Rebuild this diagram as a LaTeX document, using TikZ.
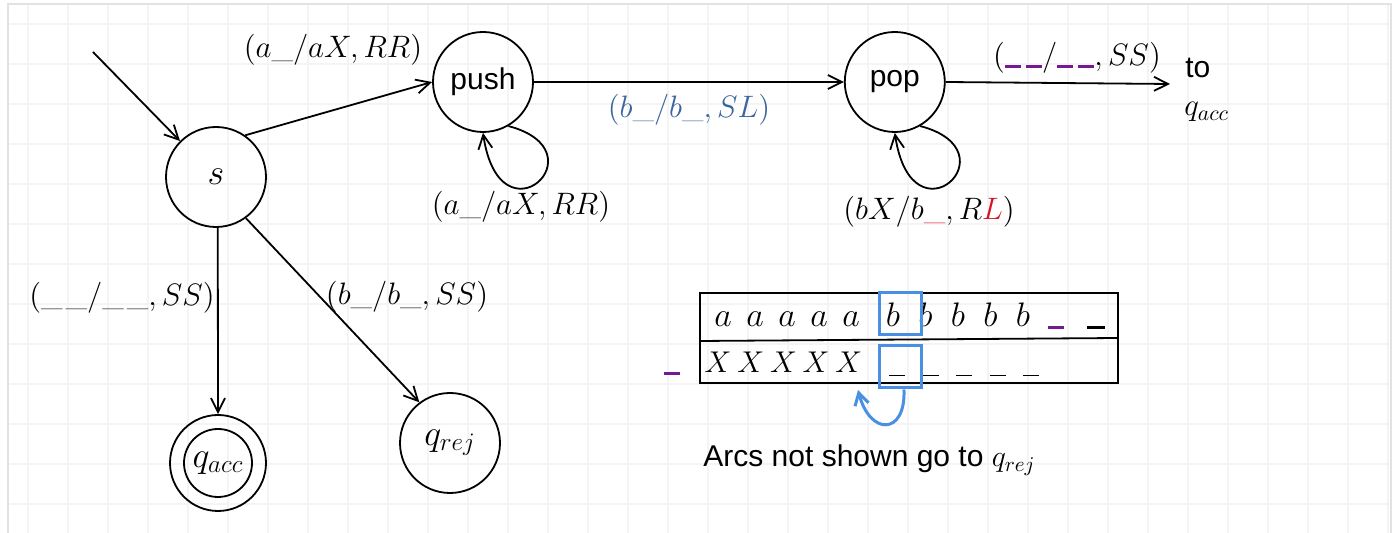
\RequirePackage{fix-cm}
\documentclass[tikz,border=0pt]{standalone}
\usepackage{fontspec}
\setsansfont{Liberation Sans}
\usepackage{amsmath}
\usetikzlibrary{arrows.meta, positioning, calc}
\definecolor{gridgray}{RGB}{244, 244, 244}
\definecolor{framegray}{RGB}{226, 226, 226}
\definecolor{slblue}{RGB}{58, 100, 158}
\definecolor{headblue}{RGB}{74, 144, 226}
\definecolor{blankpurple}{RGB}{115, 25, 145}
\definecolor{movered}{RGB}{215, 20, 40}
\newcommand{\pblank}{\mbox{\color{blankpurple}\rule[-1pt]{8pt}{1.5pt}}}
\newcommand{\kblank}{\mbox{\rule[-1pt]{9pt}{1.5pt}}}
\newcommand{\tblank}{\mbox{\rule[-1.5pt]{8pt}{0.6pt}}}
\tikzset{
  tmstate/.style={circle, draw, line width=0.9pt, minimum size=50pt, inner sep=0pt, font=\fontsize{18}{20}\selectfont},
  opstate/.style={tmstate, font=\sffamily\fontsize{15}{17}\selectfont},
  tmarrow/.style={-{Straight Barb[length=7pt, width=7pt]}, line width=0.9pt},
  trlabel/.style={font=\fontsize{15.5}{18}\selectfont, inner sep=1pt},
  sansnote/.style={font=\sffamily\fontsize{15}{17}\selectfont, inner sep=0pt, anchor=west},
  tapesym/.style={font=\fontsize{17}{19}\selectfont, anchor=base, inner sep=0pt},
  headcell/.style={draw=headblue, line width=1.5pt, minimum width=21pt, minimum height=21pt, inner sep=0pt},
  headarrow/.style={-{Straight Barb[length=6pt, width=7pt]}, headblue, line width=1.5pt},
  gridline/.style={gridgray, line width=1pt},
}
\begin{document}
\begin{tikzpicture}[x=0.5pt, y=-0.5pt]
  \useasboundingbox (0,0) rectangle (1394,533);
  % background grid
  \foreach \gx in {28,68,...,1388} \draw[gridline] (\gx,4) -- (\gx,533);
  \foreach \gy in {24,64,...,533} \draw[gridline] (8,\gy) -- (1391,\gy);
  \draw[framegray, line width=0.8pt] (8,533) -- (8,4) -- (1391,4) -- (1391,533);

  % states
  \node[tmstate] (s) at (216,177) {$s$};
  \node[opstate] (push) at (483,82) {push};
  \node[opstate] (pop) [right=155pt of push] {pop};
  \node[tmstate, minimum size=48pt] (qacc) at (218,463) {$q_{acc}$};
  \draw[line width=0.9pt] (qacc.center) circle (17pt);
  \node[tmstate] (qrej) at (450,443) {$q_{rej}$};

  % transitions
  \coordinate (init) at (93,52);
  \coordinate (accend) at (1170,84);
  \draw[tmarrow] (init) -- (s.135);
  \draw[tmarrow] (s.55) -- (push.west);
  \draw[tmarrow] (push.east) -- (pop.west);
  \draw[tmarrow] (pop.east) -- (accend);
  \draw[tmarrow] (s.-88) -- (qacc.north);
  \draw[tmarrow] (s.-54) -- (qrej.127);
  \foreach \st in {push,pop}
    \draw[tmarrow] (\st.-60) .. controls +(95,25) and +(17,115) .. (\st.south);

  % labels
  \node[trlabel] (lsp) at (333,50) {$(a\_/aX, RR)$};
  \node[trlabel] (lpushloop) at (521,207) {$(a\_/aX, RR)$};
  \node[trlabel, text=slblue] (lpp) at (689,110) {$(b\_/b\_, SL)$};
  \node[trlabel] (lpoploop) at (929,212) {$(bX/b\textcolor{movered}{\_}, R\textcolor{movered}{L})$};
  \node[trlabel] (lacc) at (1077,58) {$(\pblank\,\pblank/\pblank\,\pblank, SS)$};
  \node[sansnote] (tolbl) at (1185,68) {to};
  \node[trlabel, anchor=west, inner sep=0pt] (tolacc) at (1184,112) {$q_{acc}$};
  \node[trlabel] (lsacc) at (122,298) {$(\_\kern1.5pt\_/\_\kern1.5pt\_, SS)$};
  \node[trlabel] (lsrej) at (407,297) {$(b\_/b\_, SS)$};

  % tape
  \node[draw, line width=0.9pt, minimum width=209pt, minimum height=45pt, inner sep=0pt] (tape) at (909,338) {};
  \draw[line width=0.9pt] ([yshift=-1.5pt]tape.west) -- (tape.east);
  \foreach \i in {0,...,4} {
    \node[tapesym] (ta\i) at (723+32*\i,327) {$a$};
    \node[tapesym] (tb\i) at (893+32.5*\i,327) {$b$};
    \node[tapesym, font=\fontsize{15}{17}\selectfont] (tx\i) at (718+32.7*\i,373) {$X$};
    \node[tapesym] (tu\i) at (897+33.5*\i,373) {\tblank};
  }
  \node[tapesym] (tpb) at (1056,327) {\pblank};
  \node[tapesym] (tkb) at (1096,327) {\kblank};
  \node[tapesym] (lpb) at (672,373) {\pblank};
  \node[headcell] (headtop) at (900,314) {};
  \node[headcell] (headbot) at (900,367) {};
  \coordinate (headback) at (858,390);
  \draw[headarrow] (headbot.-80) .. controls +(2,46) and +(12,46) .. (headback);

  \node[sansnote] (note) at (703,460) {Arcs not shown go to $q_{rej}$};
\end{tikzpicture}
\end{document}
